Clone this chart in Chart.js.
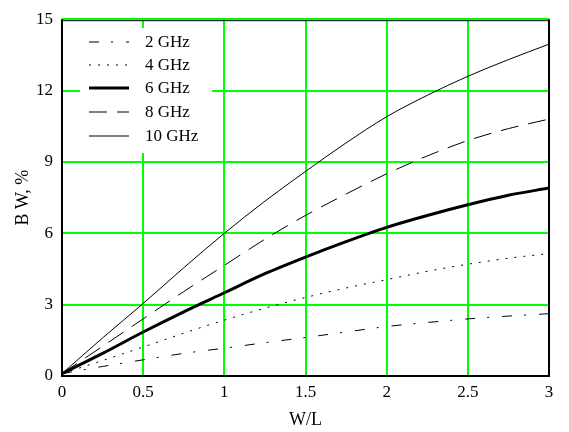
<!DOCTYPE html>
<html>
<head>
<meta charset="utf-8">
<script src="https://cdn.jsdelivr.net/npm/chart.js@4/dist/chart.umd.min.js"></script>
<style>
  html, body { margin: 0; padding: 0; background: #fff; }
  #wrap { width: 569px; height: 432px; }
</style>
</head>
<body>
<div id="wrap"><canvas id="myChart" width="569" height="432"></canvas></div>
<script>
// W/L values along the x axis
var ratios = [0, 0.25, 0.5, 0.75, 1, 1.25, 1.5, 1.75, 2, 2.25, 2.5, 2.75, 3];

// bandwidth in % for each frequency
var bw2  = [0.1, 0.4, 0.68, 0.95, 1.17, 1.4, 1.62, 1.85, 2.08, 2.25, 2.4, 2.52, 2.62];
var bw4  = [0.1, 0.65, 1.22, 1.8, 2.35, 2.85, 3.3, 3.7, 4.05, 4.4, 4.7, 4.95, 5.15];
var bw6  = [0.1, 0.95, 1.85, 2.7, 3.5, 4.3, 5.0, 5.65, 6.25, 6.75, 7.2, 7.6, 7.9];
var bw8  = [0.1, 1.25, 2.4, 3.55, 4.65, 5.75, 6.75, 7.65, 8.5, 9.25, 9.9, 10.4, 10.8];
var bw10 = [0.1, 1.6, 3.05, 4.55, 6.0, 7.35, 8.6, 9.8, 10.9, 11.8, 12.6, 13.3, 13.95];

var labels = ["2 GHz", "4 GHz", "6 GHz", "8 GHz", "10 GHz"];
var xTicks = [0, 0.5, 1, 1.5, 2, 2.5, 3];
var yTicks = [0, 3, 6, 9, 12, 15];

var FONT = "'Liberation Serif', 'Times New Roman', serif";

function toPoints(vals) {
    return vals.map(function(v, i) { return { x: ratios[i], y: v }; });
}

function makeSet(label, vals, width, dash) {
    return {
        label: label,
        data: toPoints(vals),
        borderColor: "#000",
        borderWidth: width,
        borderDash: dash,
        pointRadius: 0,
        fill: false,
        cubicInterpolationMode: "monotone"
    };
}

// black frame round the plot, like the original
var framePlugin = {
    id: "frame",
    beforeDatasetsDraw: function(chart) {
        var a = chart.chartArea, ctx = chart.ctx;
        ctx.save();
        ctx.strokeStyle = "#000";
        ctx.lineWidth = 2;
        ctx.beginPath();
        ctx.moveTo(a.left, a.top);
        ctx.lineTo(a.left, a.bottom);
        ctx.lineTo(a.right, a.bottom);
        ctx.lineTo(a.right, a.top);
        ctx.stroke();
        ctx.lineWidth = 1;
        ctx.beginPath();
        ctx.moveTo(a.left, a.top + 1.5);
        ctx.lineTo(a.right, a.top + 1.5);
        ctx.stroke();
        ctx.restore();
    }
};

// legend drawn inside the plot, top left, over a white box
var innerLegend = {
    id: "innerLegend",
    beforeDatasetsDraw: function(chart) {
        var ctx = chart.ctx;
        ctx.save();
        ctx.fillStyle = "#fff";
        ctx.fillRect(80, 28, 132, 125);
        var rowY = [42, 65, 88, 112, 136];
        chart.data.datasets.forEach(function(ds, i) {
            ctx.strokeStyle = "#000";
            ctx.lineWidth = ds.borderWidth;
            ctx.setLineDash(ds.borderDash || []);
            ctx.beginPath();
            ctx.moveTo(89, rowY[i]);
            ctx.lineTo(129, rowY[i]);
            ctx.stroke();
            ctx.setLineDash([]);
            ctx.fillStyle = "#000";
            ctx.font = "17px " + FONT;
            ctx.textBaseline = "middle";
            ctx.textAlign = "left";
            ctx.fillText(ds.label, 145, rowY[i] + 1);
        });
        ctx.restore();
    }
};

var chartData = {
    datasets: [
        makeSet(labels[0], bw2, 1, [10, 12, 2, 13]),
        makeSet(labels[1], bw4, 1, [2, 7]),
        makeSet(labels[2], bw6, 3, []),
        makeSet(labels[3], bw8, 1, [18, 10]),
        makeSet(labels[4], bw10, 1, [])
    ]
};

var config = {
    type: "line",
    data: chartData,
    options: {
        responsive: false,
        animation: false,
        layout: { padding: { top: 15, right: 20, left: 0, bottom: 0 } },
        plugins: {
            legend: { display: false },
            tooltip: { enabled: false }
        },
        scales: {
            x: {
                type: "linear",
                min: 0,
                max: 3,
                afterBuildTicks: function(s) { s.ticks = xTicks.map(function(v) { return { value: v }; }); },
                afterFit: function(s) { s.height = 56; },
                grid: { color: "#00ff00", lineWidth: 2, drawTicks: false },
                border: { display: false },
                ticks: {
                    color: "#000",
                    font: { family: FONT, size: 17 },
                    padding: 6,
                    maxRotation: 0,
                    callback: function(v) { return String(v); }
                },
                title: { display: true, text: "W/L", color: "#000", font: { family: FONT, size: 18 }, padding: { top: 0, bottom: 1 } }
            },
            y: {
                min: 0,
                max: 15,
                afterBuildTicks: function(s) { s.ticks = yTicks.map(function(v) { return { value: v }; }); },
                afterFit: function(s) { s.width = 62; },
                grid: { color: "#00ff00", lineWidth: 2, drawTicks: false },
                border: { display: false },
                ticks: {
                    color: "#000",
                    font: { family: FONT, size: 17 },
                    padding: 9,
                    callback: function(v) { return String(v); }
                },
                title: { display: true, text: "B W, %", color: "#000", font: { family: FONT, size: 18 }, padding: { top: 12, bottom: 0 } }
            }
        }
    },
    plugins: [framePlugin, innerLegend]
};

var myChart = new Chart(document.getElementById("myChart"), config);
</script>
</body>
</html>
